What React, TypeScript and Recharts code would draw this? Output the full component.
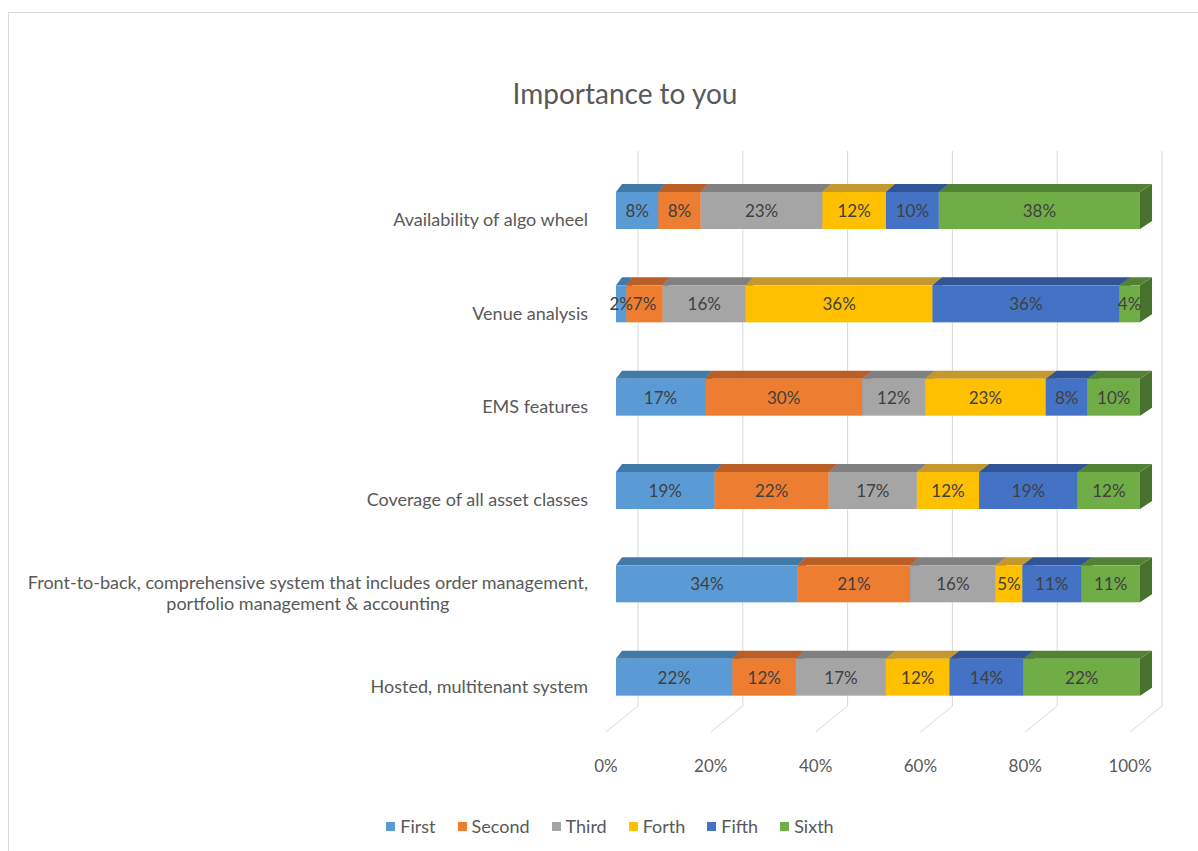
import { BarChart, Bar, XAxis, YAxis, CartesianGrid, LabelList } from 'recharts';

const categories = [
  'Availability of algo wheel',
  'Venue analysis',
  'EMS features',
  'Coverage of all asset classes',
  'Front-to-back, comprehensive system that includes order management,\nportfolio management & accounting',
  'Hosted, multitenant system',
];

const first = [8, 2, 17, 19, 34, 22];
const second = [8, 7, 30, 22, 21, 12];
const third = [23, 16, 12, 17, 16, 17];
const forth = [12, 36, 23, 12, 5, 12];
const fifth = [10, 36, 8, 19, 11, 14];
const sixth = [38, 4, 10, 12, 11, 22];

const xTicks = [0, 0.2, 0.4, 0.6, 0.8, 1];

const series = [
  { key: 'first', name: 'First', front: '#5B9BD5', top: '#4179A8', side: '#3A6A94' },
  { key: 'second', name: 'Second', front: '#ED7D31', top: '#B95F25', side: '#A35420' },
  { key: 'third', name: 'Third', front: '#A5A5A5', top: '#808080', side: '#727272' },
  { key: 'forth', name: 'Forth', front: '#FFC000', top: '#C4982C', side: '#AD8626' },
  { key: 'fifth', name: 'Fifth', front: '#4472C4', top: '#2F5597', side: '#2A4C86' },
  { key: 'sixth', name: 'Sixth', front: '#70AD47', top: '#548235', side: '#48712E' },
];

const data = categories.map((name, i) => ({
  name,
  first: first[i],
  second: second[i],
  third: third[i],
  forth: forth[i],
  fifth: fifth[i],
  sixth: sixth[i],
}));

// layout of the plot (page coords)
const W = 1198;
const H = 851;
const PLOT_LEFT = 616;
const PLOT_RIGHT = 1140;
const PLOT_TOP = 164;
const PLOT_BOTTOM = 724;
const X_AXIS_H = 40;
const DEPTH_Y = 8;
const FONT = 'Lato, "Open Sans", sans-serif';

// perspective: the side offset grows to the right
const depthX = (px: number) => 6 + (6 * (px - PLOT_LEFT)) / (PLOT_RIGHT - PLOT_LEFT);

function Box3D(props: any) {
  const { x, y, width, height, colors } = props;
  if (!width || width <= 0) return null;
  const x2 = x + width;
  const d1 = depthX(x);
  const d2 = depthX(x2);
  return (
    <g>
      <polygon
        points={`${x2},${y} ${x2 + d2},${y - DEPTH_Y} ${x2 + d2},${y + height - DEPTH_Y} ${x2},${y + height}`}
        fill={colors.side}
      />
      <polygon
        points={`${x},${y} ${x2},${y} ${x2 + d2},${y - DEPTH_Y} ${x + d1},${y - DEPTH_Y}`}
        fill={colors.top}
      />
      <rect x={x} y={y} width={width} height={height} fill={colors.front} />
    </g>
  );
}

function GridLine(props: any) {
  const { x1 } = props;
  return (
    <polyline
      points={`${x1 + 22},151 ${x1 + 22},706 ${x1 - 10},732`}
      fill="none"
      stroke="#D9D9D9"
      strokeWidth={1}
    />
  );
}

function XTick(props: any) {
  const { x, payload } = props;
  return (
    <text
      x={x - 10}
      y={765}
      textAnchor="middle"
      dominantBaseline="central"
      fill="#595959"
      fontSize={17}
      fontFamily={FONT}
    >
      {`${Math.round(payload.value * 100)}%`}
    </text>
  );
}

function CategoryTick(props: any) {
  const { y, payload } = props;
  return (
    <foreignObject x={0} y={y + 9 - 30} width={588} height={60}>
      <div
        style={{
          display: 'flex',
          justifyContent: 'flex-end',
          alignItems: 'center',
          height: 60,
        }}
      >
        <div
          style={{
            textAlign: 'center',
            whiteSpace: 'pre',
            fontFamily: FONT,
            fontSize: 18,
            lineHeight: '21px',
            color: '#595959',
          }}
        >
          {payload.value}
        </div>
      </div>
    </foreignObject>
  );
}

function ValueLabel(props: any) {
  const { x, y, width, height, value } = props;
  return (
    <text
      x={x + width / 2}
      y={y + height / 2}
      textAnchor="middle"
      dominantBaseline="central"
      fill="#404040"
      fontSize={17}
      fontFamily={FONT}
    >
      {`${value}%`}
    </text>
  );
}

export default function App() {
  return (
    <div style={{ position: 'absolute', left: 0, top: 0, width: W, height: H, overflow: 'hidden', background: '#fff' }}>
      <div
        style={{
          position: 'absolute',
          left: 8,
          top: 12,
          width: W - 8,
          height: H - 12,
          borderLeft: '1px solid #D9D9D9',
          borderTop: '1px solid #D9D9D9',
          boxSizing: 'border-box',
        }}
      />
      <div
        style={{
          position: 'absolute',
          left: 0,
          top: 76,
          width: 1250,
          textAlign: 'center',
          fontFamily: FONT,
          fontSize: 28,
          color: '#595959',
        }}
      >
        Importance to you
      </div>
      <div style={{ position: 'absolute', left: 0, top: 0 }}>
        <BarChart
          width={W}
          height={H}
          data={data}
          layout="vertical"
          stackOffset="expand"
          barSize={37}
          margin={{ top: PLOT_TOP, right: W - PLOT_RIGHT, bottom: H - PLOT_BOTTOM - X_AXIS_H, left: 0 }}
        >
          <CartesianGrid horizontal={false} vertical={(p: any) => <GridLine key={p.key} {...p} />} />
          <XAxis
            type="number"
            domain={[0, 1]}
            ticks={xTicks}
            height={X_AXIS_H}
            axisLine={false}
            tickLine={false}
            tickSize={0}
            tickMargin={0}
            tick={<XTick />}
          />
          <YAxis
            type="category"
            dataKey="name"
            width={PLOT_LEFT}
            axisLine={false}
            tickLine={false}
            tick={<CategoryTick />}
          />
          {series.map((s) => (
            <Bar
              key={s.key}
              dataKey={s.key}
              name={s.name}
              stackId="a"
              isAnimationActive={false}
              shape={(p: any) => <Box3D {...p} colors={s} />}
            >
              <LabelList dataKey={s.key} content={<ValueLabel />} />
            </Bar>
          ))}
        </BarChart>
      </div>
      <div
        style={{
          position: 'absolute',
          left: 0,
          top: 815,
          width: 1220,
          display: 'flex',
          justifyContent: 'center',
          gap: 22,
          fontFamily: FONT,
          fontSize: 18,
          color: '#595959',
        }}
      >
        {series.map((s) => (
          <div key={s.key} style={{ display: 'flex', alignItems: 'center' }}>
            <span style={{ width: 9, height: 9, background: s.front, marginRight: 5 }} />
            <span>{s.name}</span>
          </div>
        ))}
      </div>
    </div>
  );
}
